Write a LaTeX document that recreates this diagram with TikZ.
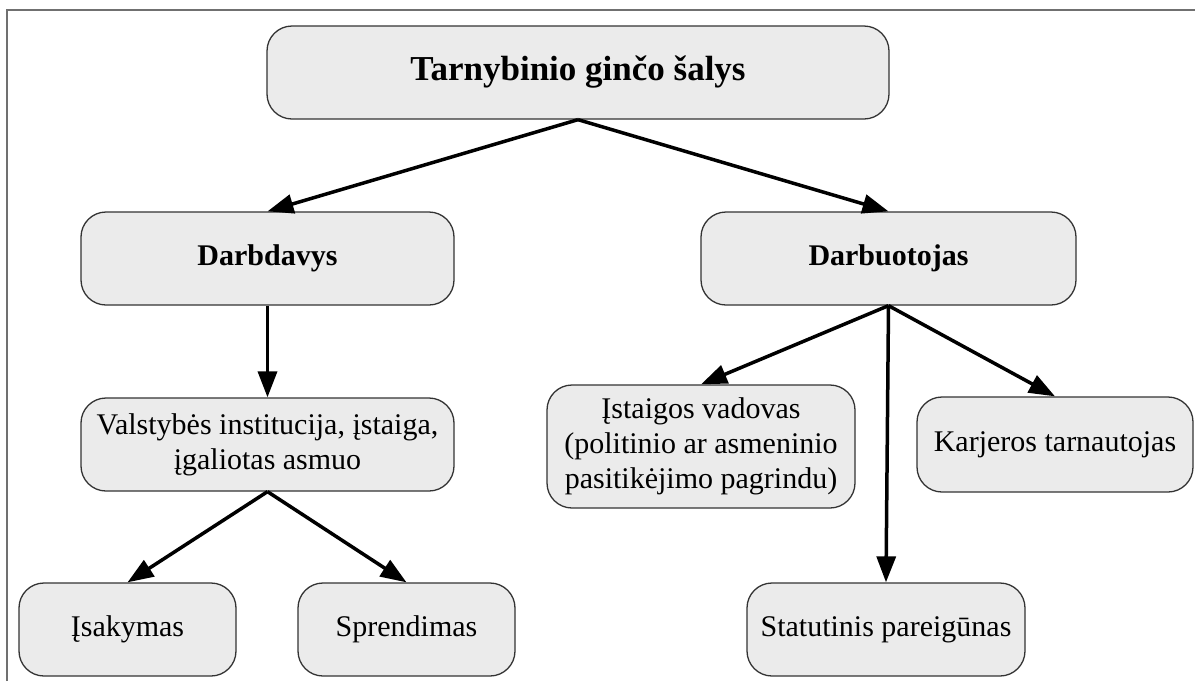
\documentclass[tikz,border=0pt]{standalone}
\usepackage{fontspec}
\setmainfont{Liberation Serif}
\usepackage{xcolor}
\usetikzlibrary{arrows.meta,positioning}

\definecolor{boxfill}{HTML}{EBEBEB}
\definecolor{boxline}{HTML}{333333}
\definecolor{framegray}{HTML}{707070}

\begin{document}
\begin{tikzpicture}[x=1pt,y=-1pt,
    party/.style={draw=boxline,line width=1.3pt,fill=boxfill,rounded corners=25pt,
        inner sep=0pt,align=center,font=\fontsize{30}{35}\selectfont},
    link/.style={-{Triangle[length=26pt,width=19pt]},line width=3.5pt}]
    \useasboundingbox (0,0) rectangle (1195,681);
    \draw[framegray,line width=1.5pt] (7,681) -- (7,10) -- (1195,10);

    \node[party,minimum width=622pt,minimum height=93pt,font=\fontsize{35}{40}\selectfont\bfseries] (salys) at (578,72.5) {Tarnybinio ginčo šalys};
    \node[party,minimum width=373pt,minimum height=93pt,font=\fontsize{30}{35}\selectfont\bfseries] (darbdavys) at (267.5,258.5) {Darbdavys};
    \node[party,minimum width=375pt,minimum height=93pt,font=\fontsize{30}{35}\selectfont\bfseries] (darbuotojas) at (888.5,258.5) {Darbuotojas};

    \node[party,minimum width=373pt,minimum height=93pt] (institucija) at (267.5,444.5) {Valstybės institucija, įstaiga,\\įgaliotas asmuo};
    \node[party,minimum width=217pt,minimum height=93pt] (isakymas) at (127.5,629.5) {Įsakymas};
    \node[party,minimum width=217pt,minimum height=93pt] (sprendimas) at (406.5,629.5) {Sprendimas};

    \node[party,minimum width=308pt,minimum height=123pt] (vadovas) at (701,446.5) {Įstaigos vadovas\\(politinio ar asmeninio\\pasitikėjimo pagrindu)};
    \node[party,minimum width=276pt,minimum height=95pt] (karjeros) at (1055,444.5) {Karjeros tarnautojas};
    \node[party,minimum width=278pt,minimum height=93pt] (statutinis) at (886,629.5) {Statutinis pareigūnas};

    \draw[link] (salys.south) -- (darbdavys.north);
    \draw[link] (salys.south) -- (darbuotojas.north);
    \draw[link] (darbdavys.south) -- (institucija.north);
    \draw[link] (institucija.south) -- (isakymas.north);
    \draw[link] (institucija.south) -- (sprendimas.north);
    \draw[link] (darbuotojas.south) -- (vadovas.north);
    \draw[link] (darbuotojas.south) -- (statutinis.north);
    \draw[link] (darbuotojas.south) -- (karjeros.north);
\end{tikzpicture}
\end{document}
